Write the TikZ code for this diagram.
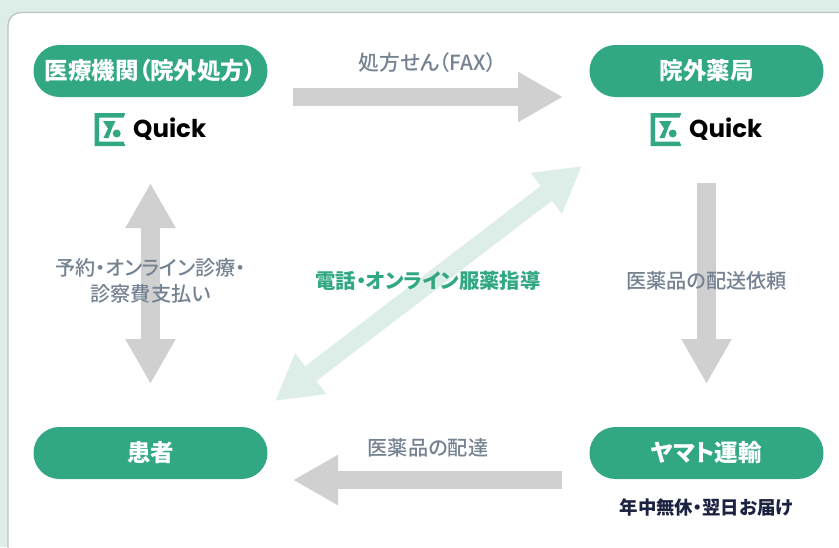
\documentclass[tikz,border=0pt]{standalone}
\usepackage{fontspec}
\usetikzlibrary{arrows.meta}
\setmainfont{Noto Sans CJK JP}[RawFeature={+palt}]
\newfontfamily\medfont{Noto Sans CJK JP Medium}[RawFeature={+palt}]
\newfontfamily\quickfont{Poppins}
\definecolor{mint}{HTML}{DDEEE8}
\definecolor{teal}{HTML}{31A883}
\definecolor{flowgray}{HTML}{D0D0D0}
\definecolor{labelgray}{HTML}{748291}
\definecolor{navy}{HTML}{1C2340}
\definecolor{cardline}{HTML}{BFC4C2}
\tikzset{
  x=1pt,y=-1pt,
  pill/.style={fill=teal,text=white,rounded corners=25.9pt,minimum width=234pt,minimum height=52pt,inner sep=0pt,font=\fontsize{23.5}{28}\selectfont\bfseries},
  flow/.style={draw=flowgray,line width=18.5pt,-{Triangle[length=45pt,width=47pt]}},
  flowboth/.style={draw=flowgray,line width=18.5pt,{Triangle[length=45pt,width=47pt]}-{Triangle[length=45pt,width=47pt]}},
  tel/.style={draw=mint,line width=18.5pt,{Triangle[length=45pt,width=48pt]}-{Triangle[length=45pt,width=48pt]}},
  lab/.style={text=labelgray,inner sep=0pt,align=center,font=\fontsize{20.2}{26}\medfont},
  qword/.style={inner sep=0pt,text=black,font=\fontsize{24.5}{28}\quickfont\bfseries},
}
\newcommand{\qicon}[2]{%
  \begin{scope}[shift={(#1,#2)}]
    \fill[teal] (0,0) -- (30.5,0) -- (30.5,1) -- (29,4.5) -- (4.5,4.5) -- (4.5,28.5) -- (29,28.5) -- (30.5,32) -- (30.5,33) -- (0,33) -- cycle;
    \fill[teal] (8.5,8) -- (21,8) -- (18,14) -- (14,25) -- (9,25) -- (13.5,15.5) -- cycle;
    \fill[teal] (22.2,20.5) circle (4);
  \end{scope}}
\begin{document}
\begin{tikzpicture}
\useasboundingbox (0,0) rectangle (839,547);
\fill[mint] (0,0) rectangle (839,547);
\draw[cardline,fill=white,line width=1.3pt,rounded corners=13pt] (8,12.5) rectangle (880,560);
% nodes
\node[pill] (clinic) at (150.5,71) {\raisebox{-1pt}{医療機関（院外処方）}};
\node[pill] (pharm) at (706.5,71) {\raisebox{-1pt}{院外薬局}};
\node[pill] (patient) at (150.5,453) {\raisebox{-1pt}{患者}};
\node[pill] (yamato) at (706.5,453) {\raisebox{-1pt}{ヤマト運輸}};
% logos
\qicon{94.5}{113}
\node[qword,anchor=west] (q1) at (133,129) {Quick};
\qicon{650.5}{113}
\node[qword,anchor=west] (q2) at (689,129) {Quick};
% connector ends
\coordinate (a1) at (293,97);   \coordinate (a2) at (563,97);
\coordinate (b1) at (706.5,183);\coordinate (b2) at (706.5,384);
\coordinate (c1) at (562,480);  \coordinate (c2) at (293,480);
\coordinate (d1) at (150.5,183);\coordinate (d2) at (150.5,384);
\coordinate (e1) at (582,166);  \coordinate (e2) at (275,401);
\draw[flow] (a1) -- (a2);
\draw[flow] (b1) -- (b2);
\draw[flow] (c1) -- (c2);
\draw[flowboth] (d1) -- (d2);
\draw[tel] (e1) -- (e2);
% labels
\node[lab,font=\fontsize{20.8}{26}\medfont] (l1) at (427.5,63) {処方せん（FAX）};
\node[lab] (l2) at (150.5,281) {予約・オンライン診療・\\診察費支払い};
\node[lab,text=teal,font=\fontsize{20.3}{26}\selectfont\bfseries] (l3) at (428,281) {電話・オンライン服薬指導};
\node[lab] (l4) at (706.5,281) {医薬品の配送依頼};
\node[lab] (l5) at (428,448) {医薬品の配達};
\node[inner sep=0pt,text=navy,font=\fontsize{18.4}{22}\selectfont\bfseries] (l6) at (706.5,507) {年中無休・翌日お届け};
\end{tikzpicture}
\end{document}
